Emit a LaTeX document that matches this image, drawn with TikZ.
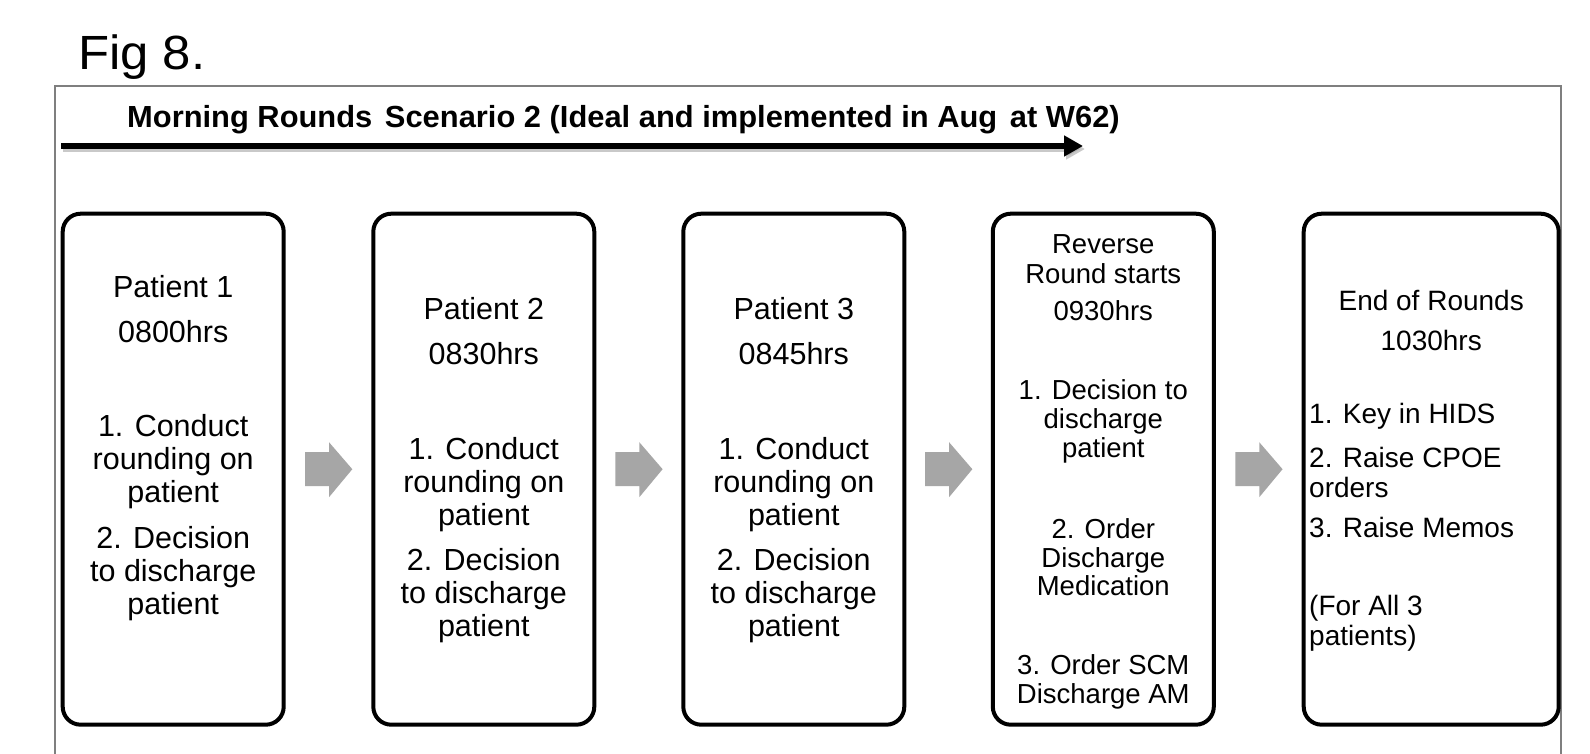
\documentclass[tikz,border=0pt]{standalone}
\usepackage{fontspec}
\setmainfont{Liberation Sans}
\usetikzlibrary{arrows.meta,calc}
\definecolor{garrowc}{HTML}{A6A6A6}
\definecolor{framec}{HTML}{7F7F7F}
\begin{document}
\begin{tikzpicture}[x=1pt,y=-1pt,
  box/.style={draw=black,line width=4pt,rounded corners=18pt,minimum width=221pt,minimum height=511pt,inner sep=0pt,outer sep=0pt},
  ta/.style={font=\fontsize{30.5}{32}\selectfont,anchor=base,inner sep=0pt},
  tb/.style={font=\fontsize{27.5}{29}\selectfont,anchor=base,inner sep=0pt},
  tc/.style={font=\fontsize{28}{29}\selectfont,anchor=base,inner sep=0pt},
  tcl/.style={tc,anchor=base west},
  garrow/.style={fill=garrowc,draw=none},
  timearrow/.style={line width=6pt,-{Triangle[length=19pt,width=20pt]}}
]
\useasboundingbox (0,0) rectangle (1590,754);
\fill[white] (0,0) rectangle (1590,754);

\node[anchor=base west,inner sep=0pt,font=\fontsize{48}{50}\selectfont] (fig) at (78,70) {\scalebox{1.06}[1]{Fig 8.}};

\draw[framec,line width=1.5pt] (55,754) -- (55,86) -- (1561,86) -- (1561,754);

\node[anchor=base west,inner sep=0pt,font=\fontsize{30.5}{31}\selectfont\bfseries] (title) at (127,128) {\scalebox{1.012}[1]{Morning Rounds\hspace{4pt} Scenario 2 (Ideal and implemented in Aug\hspace{4pt} at W62)}};

\coordinate (ta0) at (61,146);
\coordinate (ta1) at (1083,146);
\draw[timearrow,black!35,opacity=0.6] ($(ta0)+(2,3)$) -- ($(ta1)+(2,3)$);
\draw[timearrow] (ta0) -- (ta1);

\node[box] (b1) at (173.2,469.2) {};
\node[box] (b2) at (483.8,469.2) {};
\node[box] (b3) at (793.8,469.2) {};
\node[box] (b4) at (1103.3,469.2) {};
\node[box,minimum width=255pt] (b5) at (1431.2,469.2) {};

\foreach \a/\b [count=\i] in {b1/b2,b2/b3,b3/b4,b4/b5} {
  \coordinate (m\i) at ($(\a.east)!0.5!(\b.west)$);
  \fill[garrow] ($(m\i)+(-23.5,-17)$) -- ++(24,0) -- ++(0,-10) -- ++(23.3,27) -- ++(-23.3,28) -- ++(0,-11) -- ++(-24,0) -- cycle;
}

\foreach \t/\y [count=\i] in {Patient 1/297, 0800hrs/342, 1. Conduct/436, rounding on/469, patient/502, 2. Decision/548, to discharge/581, patient/614}
  \node[ta] (t1-\i) at (173.2,\y) {\t};

\foreach \t/\y [count=\i] in {Patient 2/319, 0830hrs/364, 1. Conduct/459, rounding on/492, patient/525, 2. Decision/570, to discharge/603, patient/636}
  \node[ta] (t2-\i) at (483.8,\y) {\t};

\foreach \t/\y [count=\i] in {Patient 3/319, 0845hrs/364, 1. Conduct/459, rounding on/492, patient/525, 2. Decision/570, to discharge/603, patient/636}
  \node[ta] (t3-\i) at (793.8,\y) {\t};

\foreach \t/\y [count=\i] in {Reverse/254, Round starts/283, 0930hrs/320, 1. Decision to/399, discharge/428, patient/457, 2. Order/538, Discharge/567, Medication/595, 3. Order SCM/674, Discharge AM/703}
  \node[tb] (t4-\i) at (1103.3,\y) {\t};

\foreach \t/\y [count=\i] in {End of Rounds/310, 1030hrs/350}
  \node[tc] (t5h-\i) at (1431.2,\y) {\t};

\foreach \t/\y [count=\i] in {1. Key in HIDS/423, 2. Raise CPOE/467, orders/497, 3. Raise Memos/537, {(For All 3}/615, patients)/645}
  \node[tcl] (t5-\i) at (1309,\y) {\t};
\end{tikzpicture}
\end{document}
